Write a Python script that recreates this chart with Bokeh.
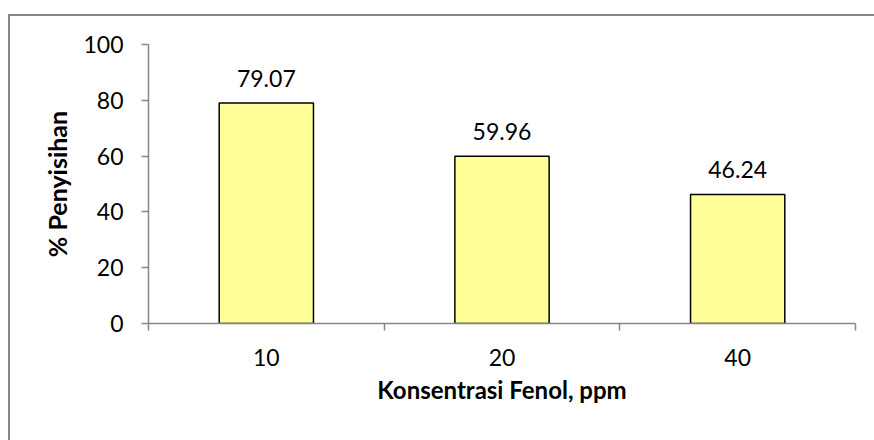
from bokeh.plotting import figure
from bokeh.layouts import column
from bokeh.models import FixedTicker, ColumnDataSource, Range1d
from bokeh.core.properties import value
from bokeh.embed import file_html
from bokeh.resources import INLINE

categories = ["10", "20", "40"]
values = [79.07, 59.96, 46.24]
labels = ["79.07", "59.96", "46.24"]
y_ticks = [0, 20, 40, 60, 80, 100]

xs = [i + 0.5 for i in range(len(categories))]
src = ColumnDataSource(dict(x=xs, top=values, label=labels))

FONT = "Lato"
GRAY = "#868686"
OX, OY = 10, 16  # canvas offset inside the outer chart border

p = figure(width=874 - OX, height=440 - OY, output_backend="svg", toolbar_location=None,
           x_range=Range1d(0, len(categories)), y_range=Range1d(0, 100),
           min_border_left=148 - OX, min_border_right=19, min_border_top=44 - OY,
           min_border_bottom=117)
p.outline_line_color = None
p.xgrid.visible = False
p.ygrid.visible = False
p.background_fill_color = "white"
p.border_fill_color = "white"

p.vbar(x="x", top="top", width=0.4, bottom=0, source=src,
       fill_color="#FFFF99", line_color="black", line_width=1.5)
p.text(x="x", y="top", text="label", source=src, y_offset=-16,
       text_align="center", text_baseline="bottom", text_font=value(FONT),
       text_font_size="23px", text_color="black")

# x axis
p.xaxis.ticker = FixedTicker(ticks=xs, minor_ticks=list(range(len(categories) + 1)))
p.xaxis.major_label_overrides = {x: c for x, c in zip(xs, categories)}
p.xaxis.major_tick_out = 0
p.xaxis.major_tick_in = 0
p.xaxis.minor_tick_out = 7
p.xaxis.minor_tick_in = 0
p.xaxis.minor_tick_line_color = GRAY
p.xaxis.minor_tick_line_width = 1.5
p.xaxis.axis_line_color = GRAY
p.xaxis.axis_line_width = 1.5
p.xaxis.major_label_text_font = FONT
p.xaxis.major_label_text_font_size = "23px"
p.xaxis.major_label_text_color = "black"
p.xaxis.major_label_standoff = 18
p.xaxis.axis_label = "Konsentrasi Fenol, ppm"
p.xaxis.axis_label_text_font = FONT
p.xaxis.axis_label_text_font_size = "24px"
p.xaxis.axis_label_text_font_style = "bold"
p.xaxis.axis_label_text_color = "black"
p.xaxis.axis_label_standoff = 6

# y axis
p.yaxis.ticker = FixedTicker(ticks=y_ticks)
p.yaxis.major_tick_out = 7
p.yaxis.major_tick_in = 0
p.yaxis.minor_tick_out = 0
p.yaxis.minor_tick_in = 0
p.yaxis.major_tick_line_color = GRAY
p.yaxis.major_tick_line_width = 1.5
p.yaxis.axis_line_color = GRAY
p.yaxis.axis_line_width = 1.5
p.yaxis.major_label_text_font = FONT
p.yaxis.major_label_text_font_size = "23px"
p.yaxis.major_label_text_color = "black"
p.yaxis.major_label_standoff = 18
p.yaxis.axis_label = "% Penyisihan"
p.yaxis.axis_label_text_font = FONT
p.yaxis.axis_label_text_font_size = "25px"
p.yaxis.axis_label_text_font_style = "bold"
p.yaxis.axis_label_text_color = "black"
p.yaxis.axis_label_standoff = 8

layout = column(p, styles={"margin-left": "8px", "margin-top": "14px",
                           "border-left": "2px solid " + GRAY,
                           "border-top": "2px solid " + GRAY})

open("out.html", "w").write(file_html(layout, INLINE))
